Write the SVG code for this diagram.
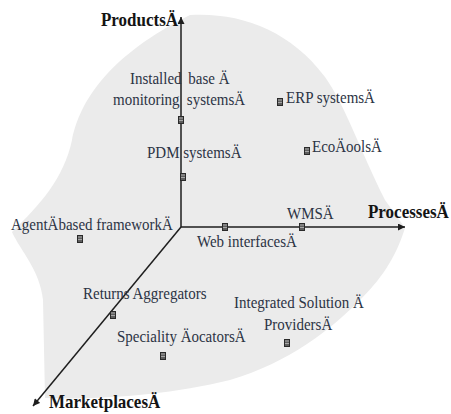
<svg xmlns="http://www.w3.org/2000/svg" width="451" height="414" viewBox="0 0 451 414">
<style>
.lbl{font-family:"Liberation Serif","Times New Roman",serif;font-size:15px;fill:#2c3344;}
.ax{font-family:"Liberation Serif","Times New Roman",serif;font-size:17px;font-weight:bold;fill:#141414;}
.axis{stroke:#1e1e1e;stroke-width:1.5;fill:none;}
</style>
<defs>
<marker id="ah" viewBox="0 0 10 10" refX="10" refY="5" markerWidth="9" markerHeight="7" markerUnits="userSpaceOnUse" orient="auto"><path d="M0,0 L10,5 L0,10 z" fill="#1e1e1e"/></marker>
<g id="mk"><rect x="-3" y="-4" width="6" height="8" fill="#2a2a2a"/><path d="M-2,-2 H2 M-2,0.5 H2 M-1,-3 V3 M1,-3 V3" stroke="#d8d8d8" stroke-width="0.6"/></g>
</defs>
<rect width="451" height="414" fill="#ffffff"/>
<path id="region" d="M190,15 C240,12 290,30 325,77 C345,105 360,150 385,200 L405,228 C395,260 380,280 360,300 C330,330 290,362 230,380 C170,395 100,400 45,398 L43,300 C40,270 20,250 12,232 C40,205 64,178 72,140 C80,100 110,55 190,15 Z" fill="#ebebeb"/>
<g id="connectors">
<line class="axis" x1="181" y1="227" x2="181" y2="17" marker-end="url(#ah)"/>
<line class="axis" x1="181" y1="227" x2="405" y2="227" marker-end="url(#ah)"/>
<line class="axis" x1="181" y1="227" x2="33" y2="406" marker-end="url(#ah)"/>
</g>
<g id="axis-products"><text class="ax" transform="translate(101,26) scale(1,1.15)">ProductsÄ</text></g>
<g id="axis-processes"><text class="ax" transform="translate(368,218) scale(1,1.15)">ProcessesÄ</text></g>
<g id="axis-marketplaces"><text class="ax" transform="translate(49,408) scale(1,1.15)">MarketplacesÄ</text></g>
<g id="installed-base">
<text class="lbl" transform="translate(130,84) scale(1,1.12)">Installed <tspan dx="3">base Ä</tspan></text>
<text class="lbl" transform="translate(113,105) scale(1,1.12)">monitoring <tspan dx="3.5">systemsÄ</tspan></text>
<use href="#mk" x="181" y="120"/>
</g>
<g id="pdm">
<text class="lbl" transform="translate(147,158) scale(1,1.12)">PDM systemsÄ</text>
<use href="#mk" x="183" y="177"/>
</g>
<g id="erp">
<text class="lbl" transform="translate(286,103) scale(1,1.12)">ERP systemsÄ</text>
<use href="#mk" x="280" y="102"/>
</g>
<g id="ecotools">
<text class="lbl" transform="translate(312,152) scale(1,1.12)">EcoÄoolsÄ</text>
<use href="#mk" x="307" y="151"/>
</g>
<g id="wms">
<text class="lbl" transform="translate(287,219) scale(1,1.12)">WMSÄ</text>
<use href="#mk" x="302" y="227"/>
</g>
<g id="web-interfaces">
<text class="lbl" transform="translate(197,247) scale(1,1.12)">Web interfacesÄ</text>
<use href="#mk" x="225" y="227"/>
</g>
<g id="agent-framework">
<text class="lbl" transform="translate(11,230) scale(1,1.12)">AgentÄbased frameworkÄ</text>
<use href="#mk" x="80" y="239"/>
</g>
<g id="returns-aggregators">
<text class="lbl" transform="translate(83,299) scale(1,1.12)">Returns Aggregators</text>
<use href="#mk" x="113" y="315"/>
</g>
<g id="speciality-locators">
<text class="lbl" transform="translate(117,342) scale(1,1.12)">Speciality ÄocatorsÄ</text>
<use href="#mk" x="163" y="356"/>
</g>
<g id="integrated-solution">
<text class="lbl" transform="translate(234,308) scale(1,1.12)">Integrated Solution Ä</text>
<text class="lbl" transform="translate(264,330) scale(1,1.12)">ProvidersÄ</text>
<use href="#mk" x="287" y="343"/>
</g>
</svg>
